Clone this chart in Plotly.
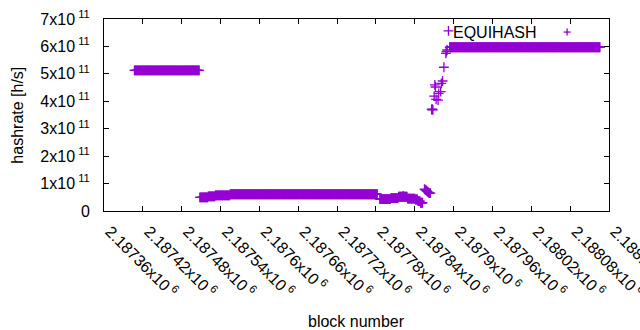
import plotly.graph_objects as go

# ---- data ----
# runs of constant hashrate: first block, last block, hashrate [h/s]
run_start = [2187407, 2187508, 2187521, 2187532, 2187555, 2187786, 2187803, 2187815,
             2187829, 2187841, 2187845, 2187849, 2187894]
run_end = [2187507, 2187520, 2187531, 2187554, 2187782, 2187802, 2187814, 2187828,
           2187840, 2187844, 2187848, 2187852, 2188126]
run_value = [5.13e11, 0.50e11, 0.535e11, 0.57e11, 0.61e11, 0.43e11, 0.47e11, 0.52e11,
             0.45e11, 0.42e11, 0.36e11, 0.30e11, 5.97e11]

# individual blocks
pt_block = [2187822, 2187855, 2187856, 2187857, 2187858, 2187859, 2187860, 2187861,
            2187862, 2187863, 2187864, 2187866, 2187867, 2187868, 2187870, 2187871,
            2187872, 2187873, 2187876, 2187877, 2187880, 2187881, 2187883, 2187885,
            2187888, 2187889, 2187890, 2187892]
pt_value = [0.55e11, 0.80e11, 0.78e11, 0.76e11, 0.74e11, 0.72e11, 0.70e11, 0.68e11,
            0.66e11, 0.65e11, 0.65e11, 3.70e11, 3.71e11, 3.69e11, 4.19e11, 4.60e11,
            4.52e11, 4.07e11, 4.04e11, 4.29e11, 4.35e11, 4.65e11, 4.74e11, 5.24e11,
            5.75e11, 5.81e11, 5.87e11, 6.57e11]

x_ticks = [2187360, 2187420, 2187480, 2187540, 2187600, 2187660, 2187720, 2187780,
           2187840, 2187900, 2187960, 2188020, 2188080, 2188140]
x_tick_labels = ["2.18736x10<sup> 6</sup>", "2.18742x10<sup> 6</sup>", "2.18748x10<sup> 6</sup>",
                 "2.18754x10<sup> 6</sup>", "2.1876x10<sup> 6</sup>", "2.18766x10<sup> 6</sup>",
                 "2.18772x10<sup> 6</sup>", "2.18778x10<sup> 6</sup>", "2.18784x10<sup> 6</sup>",
                 "2.1879x10<sup> 6</sup>", "2.18796x10<sup> 6</sup>", "2.18802x10<sup> 6</sup>",
                 "2.18808x10<sup> 6</sup>", "2.18814x10<sup> 6</sup>"]
y_ticks = [0, 1e11, 2e11, 3e11, 4e11, 5e11, 6e11, 7e11]
y_tick_labels = ["0", "1x10<sup> 11</sup>", "2x10<sup> 11</sup>", "3x10<sup> 11</sup>",
                 "4x10<sup> 11</sup>", "5x10<sup> 11</sup>", "6x10<sup> 11</sup>",
                 "7x10<sup> 11</sup>"]
series_name = "EQUIHASH"
x_title = "block number"
y_title = "hashrate [h/s]"

# build the per-block series from the runs + the single points
xs, ys = [], []
for s, e, v in zip(run_start, run_end, run_value):
    for b in range(s, e + 1):
        xs.append(b)
        ys.append(v)
xs += pt_block
ys += pt_value

PURPLE = "#9400D3"
FONT = "Liberation Sans"
FS = 16

fig = go.Figure()
fig.add_trace(go.Scatter(
    x=xs, y=ys, mode="markers", name=series_name, showlegend=False,
    marker=dict(symbol="cross-thin", size=7, color=PURPLE,
                line=dict(color=PURPLE, width=1.3)),
))

# axis titles
fig.add_annotation(x=0.5, y=-0.578, xref="paper", yref="paper", text=x_title,
                   showarrow=False, xanchor="center", yanchor="middle",
                   font=dict(family=FONT, size=FS, color="#000"))
fig.add_annotation(x=-0.173, y=0.5, xref="paper", yref="paper", text=y_title,
                   textangle=-90, showarrow=False, xanchor="center", yanchor="middle",
                   font=dict(family=FONT, size=FS, color="#000"))

# key: text, then sample marker on its right
kx, ky = 0.917, 0.932
fig.add_annotation(x=0.861, y=ky, xref="paper", yref="paper", text=series_name,
                   showarrow=False, xanchor="right", yanchor="middle",
                   font=dict(family=FONT, size=FS, color="#000"))
fig.add_shape(type="line", xref="paper", yref="paper", xsizemode="pixel", xanchor=kx,
              x0=-3.5, x1=3.5, y0=ky, y1=ky, line=dict(color=PURPLE, width=1.3))
fig.add_shape(type="line", xref="paper", yref="paper", ysizemode="pixel", yanchor=ky,
              x0=kx, x1=kx, y0=-3.5, y1=3.5, line=dict(color=PURPLE, width=1.3))

fig.update_layout(
    width=640, height=330,
    margin=dict(l=104, r=31, t=19, b=119),
    paper_bgcolor="white", plot_bgcolor="white",
    font=dict(family=FONT, size=FS, color="#000"),
    xaxis=dict(range=[2187360, 2188140], tickvals=x_ticks, ticktext=x_tick_labels,
               tickangle=45, automargin=False, ticklabeloverflow="allow",
               ticks="inside", ticklen=5, tickcolor="#000", mirror="allticks",
               showline=True, linecolor="#000", linewidth=1, showgrid=False,
               zeroline=False, ticklabelstandoff=4, ticklabelshift=6,
               tickfont=dict(family=FONT, size=FS)),
    yaxis=dict(range=[0, 7e11], tickvals=y_ticks, ticktext=y_tick_labels,
               automargin=False, ticklabeloverflow="allow",
               ticks="inside", ticklen=5, tickcolor="#000", mirror="allticks",
               showline=True, linecolor="#000", linewidth=1, showgrid=False,
               zeroline=False, ticklabelstandoff=10,
               tickfont=dict(family=FONT, size=FS)),
)

fig.write_html("out.html", config={"displayModeBar": False},
               post_script="document.body.style.margin='0';document.body.style.overflow='hidden';")
